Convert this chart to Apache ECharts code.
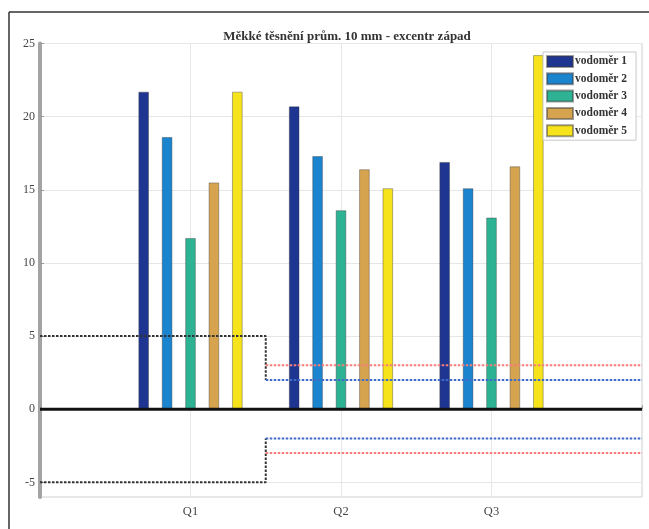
<!DOCTYPE html>
<html><head><meta charset="utf-8">
<script src="https://cdn.jsdelivr.net/npm/echarts@6/dist/echarts.min.js"></script>
<style>html,body{margin:0;padding:0;background:#fff}#c{width:649px;height:529px}</style>
</head><body><div id="c"></div>
<script>
const title = 'Měkké těsnění prům. 10 mm - excentr západ';
const categories = ['Q1', 'Q2', 'Q3'];
const seriesNames = ['vodoměr 1', 'vodoměr 2', 'vodoměr 3', 'vodoměr 4', 'vodoměr 5'];
const vodomer1 = [21.7, 20.7, 16.9];
const vodomer2 = [18.6, 17.3, 15.1];
const vodomer3 = [11.7, 13.6, 13.1];
const vodomer4 = [15.5, 16.4, 16.6];
const vodomer5 = [21.7, 15.1, 24.2];
const yTicks = [-5, 0, 5, 10, 15, 20, 25];
// limit step lines (x in category units, Q1 = 1)
const limitBreakX = 1.5;
const xStart = 0, xEnd = 4;
const limitQ1 = 5;
const limitBlue = 2;
const limitRed = 3;

const barColors = ['#1f3592', '#1a84cf', '#2db394', '#d6a44e', '#f7e31c'];
const values = [vodomer1, vodomer2, vodomer3, vodomer4, vodomer5];
const serif = '"Liberation Serif", "DejaVu Serif", serif';

const barSeries = seriesNames.map((name, k) => ({
  name, type: 'bar', xAxisIndex: 0, yAxisIndex: 0,
  barWidth: 10.5, barGap: '123%',
  itemStyle: { color: barColors[k], borderColor: 'rgba(60,60,60,0.5)', borderWidth: 0.8 },
  data: categories.map((c, i) => [i + 1, values[k][i]]),
  z: 2
}));

function lineSeries(data, color) {
  return {
    type: 'line', data, symbol: 'none', silent: true, z: 4,
    lineStyle: { color, width: 2, type: [2.5, 1.5] }
  };
}
const lines = [
  lineSeries([[xStart, limitQ1], [limitBreakX, limitQ1], [limitBreakX, limitBlue]], '#333'),
  lineSeries([[xStart, -limitQ1], [limitBreakX, -limitQ1], [limitBreakX, -limitBlue]], '#333'),
  lineSeries([[limitBreakX, limitRed], [xEnd, limitRed]], '#f47f7a'),
  lineSeries([[limitBreakX, -limitRed], [xEnd, -limitRed]], '#f47f7a'),
  lineSeries([[limitBreakX, limitBlue], [xEnd, limitBlue]], '#3f6cc9'),
  lineSeries([[limitBreakX, -limitBlue], [xEnd, -limitBlue]], '#3f6cc9'),
  {
    type: 'line', data: [[xStart, 0], [xEnd, 0]], symbol: 'none', silent: true, z: 5,
    lineStyle: { color: '#111', width: 3 }
  }
];

const chart = echarts.init(document.getElementById('c'), null, { renderer: 'canvas' });
chart.setOption({
  animation: false,
  backgroundColor: '#fff',
  title: {
    text: title, left: 342, top: 25, textAlign: 'center',
    textStyle: { fontFamily: serif, fontSize: 13, fontWeight: 'bold', color: '#333' }
  },
  grid: { left: 40, right: 7, top: 43.5, bottom: 32, show: true, borderColor: '#cfcfcf', borderWidth: 1, backgroundColor: '#fff' },
  legend: {
    data: seriesNames, orient: 'vertical', left: 543, top: 52,
    itemWidth: 26, itemHeight: 11, itemGap: 4.3, icon: 'rect',
    padding: [3, 9, 3, 3],
    backgroundColor: '#fff', borderColor: '#c8c8c8', borderWidth: 1,
    textStyle: { fontFamily: serif, fontSize: 11.5, fontWeight: 'bold', color: '#333', padding: [0, 0, 0, -3] },
    z: 10
  },
  xAxis: {
    type: 'value', min: xStart, max: xEnd, interval: 1,
    axisLine: { show: true, lineStyle: { color: '#c8c8c8', width: 1 } },
    axisTick: { show: true, inside: true, length: 4, lineStyle: { color: '#999' } },
    axisLabel: {
      fontFamily: serif, fontSize: 12.5, color: '#444', margin: 8,
      formatter: v => categories[v - 1] || ''
    },
    splitLine: { show: true, lineStyle: { color: '#e6e6e6', width: 1 } }
  },
  yAxis: {
    type: 'value', min: -6, max: 25,
    axisLine: { show: true, lineStyle: { color: '#a3a3a3', width: 4 } },
    axisTick: { show: true, inside: true, length: 4, customValues: yTicks, lineStyle: { color: '#999' } },
    axisLabel: { fontFamily: serif, fontSize: 12, color: '#444', margin: 5, customValues: yTicks },
    splitLine: { show: true, lineStyle: { color: '#e6e6e6', width: 1 } }
  },
  graphic: [
    { type: 'line', shape: { x1: 9, y1: 12, x2: 649, y2: 12 }, style: { stroke: '#333', lineWidth: 1.5 }, z: 100 },
    { type: 'line', shape: { x1: 9, y1: 12, x2: 9, y2: 529 }, style: { stroke: '#333', lineWidth: 1.5 }, z: 100 }
  ],
  series: [...barSeries, ...lines]
});
</script></body></html>
